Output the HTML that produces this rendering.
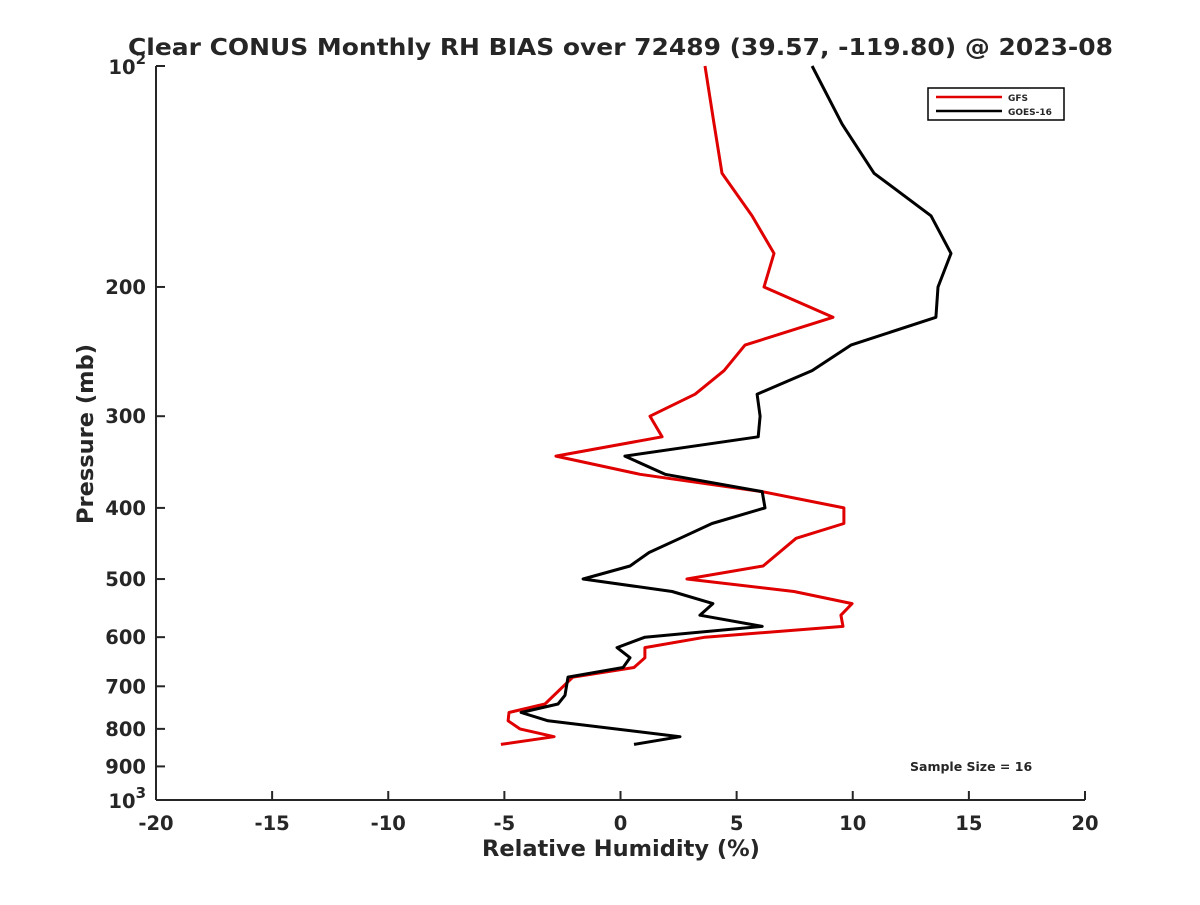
<!DOCTYPE html>
<html><head><meta charset="utf-8"><style>
body{margin:0;background:#fff}
text{font-family:"DejaVu Sans","Liberation Sans",sans-serif;font-weight:bold;fill:#262626}
</style></head><body>
<svg id="chart" width="1200" height="900" viewBox="0 0 1200 900">
<rect width="1200" height="900" fill="#fff"/>
<text x="128" y="55" font-size="23" textLength="985" lengthAdjust="spacingAndGlyphs" fill="#000">Clear CONUS Monthly RH BIAS over 72489 (39.57, -119.80) @ 2023-08</text>
<g id="axes"></g>
<g id="series"></g>
<g>
<rect x="928" y="88" width="136" height="32" fill="#fff" stroke="#000" stroke-width="1.5"/>
<line x1="936" y1="97" x2="1002" y2="97" stroke="#e00000" stroke-width="2.5"/>
<text x="1008" y="101" font-size="9" fill="#000">GFS</text>
<line x1="936" y1="111" x2="1002" y2="111" stroke="#000" stroke-width="2.5"/>
<text x="1008" y="115" font-size="9" fill="#000">GOES-16</text>
</g>
<text x="910" y="771" font-size="12.5" fill="#000">Sample Size = 16</text>
<text x="621" y="856" font-size="22.5" text-anchor="middle">Relative Humidity (%)</text>
<text x="93" y="434" font-size="22.5" text-anchor="middle" transform="rotate(-90 93 434)">Pressure (mb)</text>
</svg>
<script>
const xTicks=[-20,-15,-10,-5,0,5,10,15,20];
const yTicks=[200,300,400,500,600,700,800,900];
const gfsP=[100,120,140,160,180,200,220,240,260,280,300,320,340,360,380,400,420,440,480,500,520,540,560,580,600,620,640,660,680,740,760,780,800,820,840];
const gfsV=[3.64,4.03,4.37,5.66,6.61,6.18,9.15,5.36,4.46,3.21,1.27,1.79,-2.78,0.84,6.09,9.62,9.62,7.56,6.14,2.86,7.47,9.97,9.49,9.58,3.64,1.05,1.05,0.58,-2.05,-3.25,-4.80,-4.84,-4.33,-2.86,-5.15];
const goesP=[100,120,140,160,180,200,220,240,260,280,300,320,340,360,380,400,420,440,460,480,500,520,540,560,580,600,620,640,660,680,720,740,760,780,820,840];
const goesV=[8.25,9.54,10.92,13.37,14.23,13.67,13.58,9.92,8.25,5.88,6.01,5.93,0.19,1.92,6.10,6.22,3.94,2.56,1.23,0.41,-1.61,2.22,3.98,3.42,6.10,1.05,-0.15,0.41,0.11,-2.26,-2.39,-2.69,-4.28,-3.12,2.56,0.58];
const NS="http://www.w3.org/2000/svg";
const X0=156,X1=1085,Y0=66,Y1=800;
const xs=v=>X0+(v+20)/40*(X1-X0);
const ys=p=>Y0+(Math.log10(p)-2)*(Y1-Y0);
function mk(t,a,parent){const e=document.createElementNS(NS,t);for(const k in a)e.setAttribute(k,a[k]);parent.appendChild(e);return e;}
const ax=document.getElementById('axes');
let l=mk('line',{x1:X0,y1:Y0,x2:X0,y2:Y1,stroke:'#262626','stroke-width':2},ax);


l=mk('line',{x1:X0,y1:Y1,x2:X1,y2:Y1,stroke:'#262626','stroke-width':2},ax);


xTicks.forEach(v=>{
 const x=xs(v);
 const t=mk('line',{x1:x,y1:Y1,x2:x,y2:Y1-9,stroke:'#262626','stroke-width':2},ax);
 
 
 const tx=mk('text',{x:x,y:Y1+30,'font-size':19.5,'text-anchor':'middle'},ax);
 tx.textContent=v;
 
 
});
yTicks.forEach(p=>{
 const y=ys(p);
 const t=mk('line',{x1:X0,y1:y,x2:X0+9,y2:y,stroke:'#262626','stroke-width':2},ax);
 
 
 const tx=mk('text',{x:X0-10,y:y+7,'font-size':19.5,'text-anchor':'end'},ax);
 tx.textContent=p;
 
 
});
[[100,'2'],[1000,'3']].forEach(([p,e])=>{
 const y=ys(p);
 const t=mk('line',{x1:X0,y1:y,x2:X0+9,y2:y,stroke:'#262626','stroke-width':2},ax);
 
 
 const tx=mk('text',{x:X0-10,y:y+8,'font-size':19.5,'text-anchor':'end'},ax);
 tx.innerHTML='10<tspan font-size="15" dy="-10">'+e+'</tspan>';
 
 
});
const sg=document.getElementById('series');
function line(P,V,c,name){
 const d=P.map((p,i)=>(i?'L':'M')+xs(V[i]).toFixed(1)+','+ys(p).toFixed(1)).join('');
 const e=mk('path',{d:d,fill:'none',stroke:c,'stroke-width':3,'stroke-linejoin':'round'},sg);
 
 
}
line(gfsP,gfsV,'#e00000','gfs-line');
line(goesP,goesV,'#000','goes16-line');
</script>
</body></html>
